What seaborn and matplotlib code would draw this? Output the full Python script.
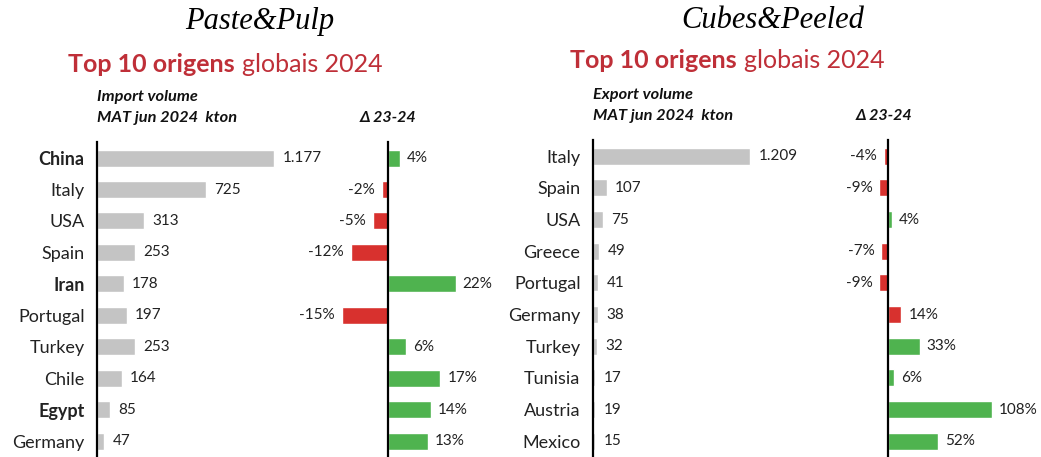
import matplotlib
matplotlib.use("Agg")
import matplotlib.pyplot as plt
import seaborn as sns
import pandas as pd

# --- data -------------------------------------------------------------------
paste_countries = ["China", "Italy", "USA", "Spain", "Iran", "Portugal",
                   "Turkey", "Chile", "Egypt", "Germany"]
paste_volume = [1177, 725, 313, 253, 178, 197, 253, 164, 85, 47]
paste_delta = [4, -2, -5, -12, 22, -15, 6, 17, 14, 13]
paste_bold = ["China", "Iran", "Egypt"]

cubes_countries = ["Italy", "Spain", "USA", "Greece", "Portugal", "Germany",
                   "Turkey", "Tunisia", "Austria", "Mexico"]
cubes_volume = [1209, 107, 75, 49, 41, 38, 32, 17, 19, 15]
cubes_delta = [-4, -9, 4, -7, -9, 14, 33, 6, 108, 52]
cubes_bold = []

# --- styling ----------------------------------------------------------------
GREY = "#c4c4c4"
GREEN = "#4fb34f"
RED = "#d8312e"
TITLE_RED = "#bf2f38"
SANS = ["Lato", "DejaVu Sans"]

sns.set_theme(style="white")
plt.rcParams["font.family"] = SANS

W, H = 1041, 457
fig = plt.figure(figsize=(W / 100, H / 100), dpi=100)


def px_axes(left, top, width, height):
    return fig.add_axes([left / W, (H - top - height) / H, width / W, height / H])


def fmt_kton(v):
    return f"{v:,}".replace(",", ".")


def style_axis(ax, zero_left=True):
    for s in ["top", "right", "bottom"]:
        ax.spines[s].set_visible(False)
    ax.spines["left"].set_color("black")
    ax.spines["left"].set_linewidth(1.6)
    if not zero_left:
        ax.spines["left"].set_position(("data", 0))
    ax.set_xticks([])
    ax.set_xlabel("")
    ax.set_ylabel("")
    ax.patch.set_alpha(0)


def volume_panel(ax, names, values, bold, xmax):
    df = pd.DataFrame({"country": names, "kton": values})
    sns.barplot(data=df, x="kton", y="country", orient="h", color=GREY,
                width=0.54, ax=ax, saturation=1)
    ax.set_xlim(0, xmax)
    ax.set_ylim(9.5, -0.5)
    style_axis(ax)
    ax.tick_params(axis="y", length=0, pad=9, labelsize=13)
    for lbl in ax.get_yticklabels():
        lbl.set_color("#222222")
        if lbl.get_text() in bold:
            lbl.set_fontweight("bold")
    ax.bar_label(ax.containers[0], labels=[fmt_kton(v) for v in values],
                 padding=6, fontsize=11, color="#222222")


def delta_panel(ax, names, values, colors, xmin, xmax):
    df = pd.DataFrame({"country": names, "delta": values})
    sns.barplot(data=df, x="delta", y="country", orient="h", hue="country",
                palette=colors, legend=False, width=0.54, ax=ax, saturation=1)
    ax.set_xlim(xmin, xmax)
    ax.set_ylim(9.5, -0.5)
    style_axis(ax, zero_left=False)
    ax.set_yticks([])
    for cont, v in zip(ax.containers, values):
        ax.bar_label(cont, labels=[f"{v}%"], padding=5, fontsize=11,
                     color="#222222")


# Paste & Pulp (left) ---------------------------------------------------------
ax1 = px_axes(97, 142.3, 230, 314.7)
volume_panel(ax1, paste_countries, paste_volume, paste_bold, 230 / 0.1504)

paste_colors = [GREEN if v >= 0 else RED for v in paste_delta]
ax2 = px_axes(388 - 20 * 3.08, 142.3, 45 * 3.08, 314.7)
delta_panel(ax2, paste_countries, paste_delta, paste_colors, -20, 25)

# Cubes & Peeled (right) ------------------------------------------------------
ax3 = px_axes(593, 140.4, 230, 316.6)
volume_panel(ax3, cubes_countries, cubes_volume, cubes_bold, 230 / 0.130)

cubes_colors = [GREEN if v >= 0 else RED for v in cubes_delta]
cubes_colors[cubes_countries.index("Germany")] = RED
ax4 = px_axes(888 - 10 * 0.96, 140.4, 130 * 0.96, 316.6)
delta_panel(ax4, cubes_countries, cubes_delta, cubes_colors, -10, 120)

# --- headings ---------------------------------------------------------------
def fy(y):
    return 1 - y / H


fig.text(260 / W, fy(22), "Paste&Pulp", ha="center", va="center",
         family="Liberation Serif", style="italic", fontsize=22, color="black")
fig.text(773 / W, fy(21), "Cubes&Peeled", ha="center", va="center",
         family="Liberation Serif", style="italic", fontsize=22, color="black")

fig.canvas.draw()
renderer = fig.canvas.get_renderer()


def red_title(x, y):
    t1 = fig.text(x / W, fy(y), "Top 10 origens", ha="left", va="center",
                  fontsize=18, fontweight="bold", color=TITLE_RED)
    bb = t1.get_window_extent(renderer)
    fig.text((bb.x1 + 7) / W, fy(y), "globais 2024", ha="left", va="center",
             fontsize=18, color=TITLE_RED)


red_title(68, 64)
red_title(570, 60)

sub_kw = dict(ha="left", va="center", fontsize=11.8, fontweight="bold",
              style="italic", color="#111111")
fig.text(97 / W, fy(97), "Import volume", **sub_kw)
fig.text(97 / W, fy(118), "MAT jun 2024  kton", **sub_kw)
fig.text(593 / W, fy(95), "Export volume", **sub_kw)
fig.text(593 / W, fy(116), "MAT jun 2024  kton", **sub_kw)

delta_kw = dict(ha="center", va="center", fontsize=11.5, fontweight="bold",
                style="italic", color="#111111")
fig.text(388 / W, fy(118), "Δ 23-24", **delta_kw)
fig.text(884 / W, fy(116), "Δ 23-24", **delta_kw)

fig.savefig("out.png", dpi=100)
